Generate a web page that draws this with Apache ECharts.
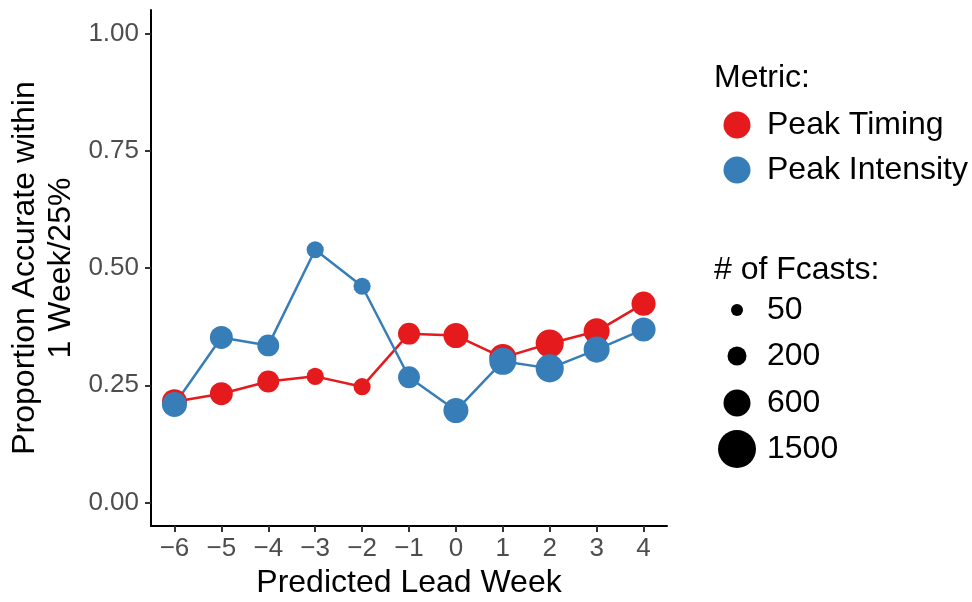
<!DOCTYPE html>
<html>
<head>
<meta charset="utf-8">
<script src="https://cdn.jsdelivr.net/npm/echarts@6/dist/echarts.min.js"></script>
<style>
html,body{margin:0;padding:0;background:#fff;overflow:hidden;}
#chart{width:972px;height:602px;}
</style>
</head>
<body>
<div id="chart"></div>
<script>
// ---- data ----
const leadWeeks = [-6, -5, -4, -3, -2, -1, 0, 1, 2, 3, 4];
const peakTiming = [0.215, 0.232, 0.258, 0.269, 0.247, 0.360, 0.356, 0.309, 0.339, 0.365, 0.424];
const peakIntensity = [0.209, 0.352, 0.335, 0.539, 0.461, 0.267, 0.196, 0.301, 0.286, 0.326, 0.369];
const nFcasts = [480, 370, 320, 150, 150, 320, 480, 600, 670, 540, 430];
const yTicks = [0, 0.25, 0.5, 0.75, 1];
const xTicks = [-6, -5, -4, -3, -2, -1, 0, 1, 2, 3, 4];
const sizeBreaks = [50, 200, 600, 1500];
const metricNames = ['Peak Timing', 'Peak Intensity'];
const colors = ['#E41A1C', '#377EB8'];

// size scale (diameter in px), piecewise in sqrt space through legend keys
const sizeKeyDiam = [12, 19, 27, 38];
function sizeOf(n) {
  const s = Math.sqrt(n);
  const ks = sizeBreaks.map(Math.sqrt);
  let i = 0;
  while (i < ks.length - 2 && s > ks[i + 1]) i++;
  const t = (s - ks[i]) / (ks[i + 1] - ks[i]);
  return sizeKeyDiam[i] + t * (sizeKeyDiam[i + 1] - sizeKeyDiam[i]);
}

const FONT = '"Liberation Sans", Arial, Helvetica, sans-serif';
const chart = echarts.init(document.getElementById('chart'), null, {renderer: 'canvas', width: 972, height: 602});

function lineSeries(vals, color) {
  return {
    type: 'line',
    data: leadWeeks.map((x, i) => [x, vals[i]]),
    showSymbol: false,
    symbol: 'none',
    lineStyle: {color: color, width: 2.5},
    itemStyle: {color: color},
    silent: true,
    animation: false,
    z: 2
  };
}
function pointSeries(vals, color) {
  return {
    type: 'scatter',
    data: leadWeeks.map((x, i) => [x, vals[i], nFcasts[i]]),
    symbol: 'circle',
    symbolSize: d => sizeOf(d[2]),
    itemStyle: {color: color, opacity: 1},
    animation: false,
    z: 3
  };
}

// legend graphics
const graphics = [];
const legX = 737, legTextX = 767;
const LF = '32px ' + FONT;
graphics.push({type: 'text', x: 714, y: 78, style: {text: 'Metric:', font: LF, fill: '#000', textVerticalAlign: 'middle'}});
const metricY = [125, 170];
metricNames.forEach((nm, i) => {
  graphics.push({type: 'circle', shape: {cx: legX, cy: metricY[i], r: 13.5}, style: {fill: colors[i]}});
  graphics.push({type: 'text', x: legTextX, y: metricY[i], style: {text: nm, font: LF, fill: '#000', textVerticalAlign: 'middle'}});
});
graphics.push({type: 'text', x: 714, y: 270, style: {text: '# of Fcasts:', font: LF, fill: '#000', textVerticalAlign: 'middle'}});
const sizeY = [310, 356, 403, 449];
sizeBreaks.forEach((b, i) => {
  graphics.push({type: 'circle', shape: {cx: legX, cy: sizeY[i], r: sizeOf(b) / 2}, style: {fill: '#000'}});
  graphics.push({type: 'text', x: legTextX, y: sizeY[i], style: {text: String(b), font: LF, fill: '#000', textVerticalAlign: 'middle'}});
});

const option = {
  backgroundColor: '#fff',
  animation: false,
  grid: {left: 151, right: 305, top: 10, bottom: 76, containLabel: false, outerBoundsMode: 'none'},
  xAxis: {
    type: 'value',
    min: -6.5, max: 4.5,
    splitLine: {show: false},
    axisLine: {show: true, onZero: false, lineStyle: {color: '#000', width: 2}},
    axisTick: {show: true, customValues: xTicks, length: 6, lineStyle: {color: '#333', width: 2}},
    axisLabel: {customValues: xTicks, color: '#4D4D4D', fontSize: 26, fontFamily: FONT, margin: 10,
      formatter: v => String(v).replace('-', '\u2212')},
    name: 'Predicted Lead Week',
    nameLocation: 'middle',
    nameGap: 41,
    nameMoveOverlap: false,
    nameTextStyle: {color: '#000', fontSize: 32, fontFamily: FONT}
  },
  yAxis: {
    type: 'value',
    min: -0.05, max: 1.05,
    splitLine: {show: false},
    axisLine: {show: true, onZero: false, lineStyle: {color: '#000', width: 2}},
    axisTick: {show: true, customValues: yTicks, length: 6, lineStyle: {color: '#333', width: 2}},
    axisLabel: {customValues: yTicks, color: '#4D4D4D', fontSize: 26, fontFamily: FONT, margin: 12,
      formatter: v => v.toFixed(2)},
    name: 'Proportion Accurate within\n1 Week/25%',
    nameLocation: 'middle',
    nameRotate: 90,
    nameGap: 72,
    nameMoveOverlap: false,
    nameTextStyle: {color: '#000', fontSize: 32, fontFamily: FONT, lineHeight: 36, align: 'center'}
  },
  series: [
    lineSeries(peakTiming, colors[0]),
    lineSeries(peakIntensity, colors[1]),
    pointSeries(peakTiming, colors[0]),
    pointSeries(peakIntensity, colors[1])
  ],
  graphic: graphics
};
chart.setOption(option);
</script>
</body>
</html>
